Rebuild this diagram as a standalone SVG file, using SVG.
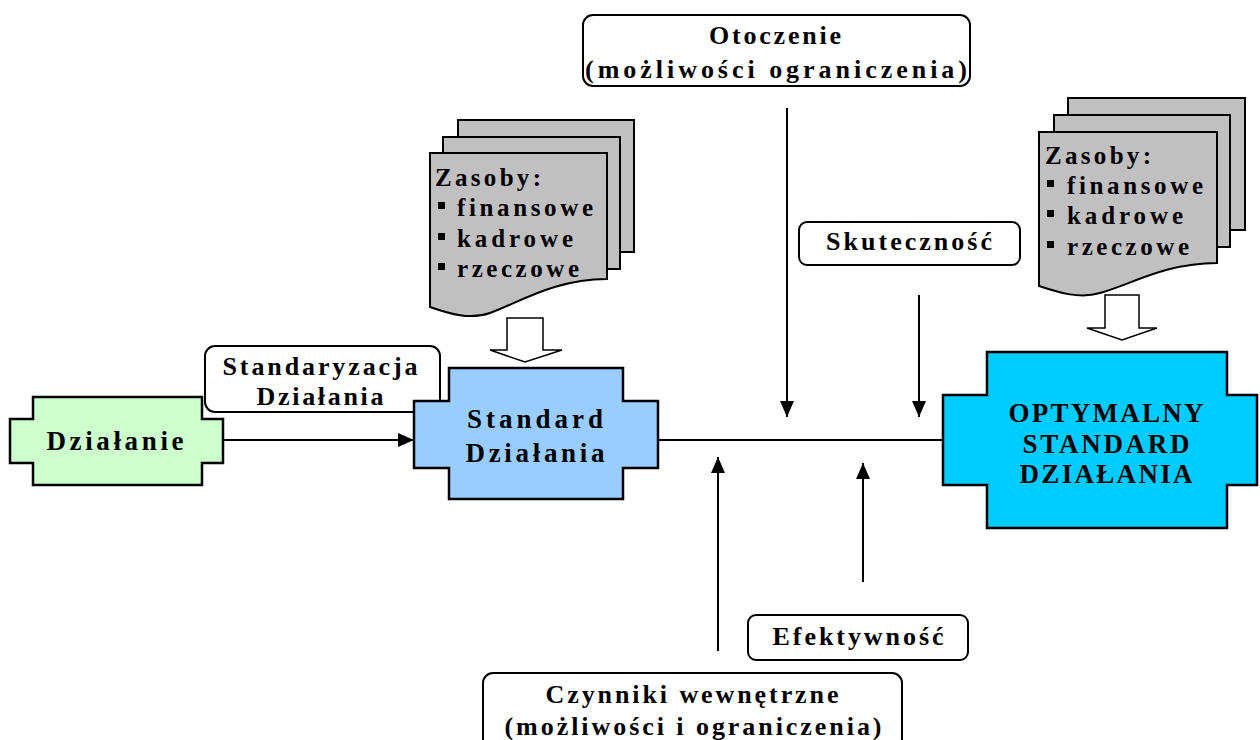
<svg xmlns="http://www.w3.org/2000/svg" width="1260" height="740" viewBox="0 0 1260 740">
  <style>
    text { font-family: "Liberation Serif", "Times New Roman", serif; font-weight: bold; fill: #000; }
    .lbl { font-size: 26px; text-anchor: middle; }
    .big { font-size: 27px; text-anchor: middle; }
    .res { font-size: 25px; }
    .box { fill: #fff; stroke: #000; stroke-width: 2; }
    .cross { stroke: #000; stroke-width: 2.5; }
    .sheet { fill: #c0c0c0; stroke: #000; stroke-width: 2; }
    .blk { fill: #fff; stroke: #000; stroke-width: 1.5; }
    .conn { fill: none; stroke: #000; stroke-width: 2; }
  </style>
  <defs>
    <marker id="ah" viewBox="0 0 16 14" refX="16" refY="7" markerWidth="16" markerHeight="14" markerUnits="userSpaceOnUse" orient="auto">
      <path d="M0,0 L16,7 L0,14 Z" fill="#000"/>
    </marker>
  </defs>

  <rect width="1260" height="740" fill="#fff"/>

  <!-- label boxes -->
  <g id="otoczenie">
    <rect class="box" x="583" y="15" width="387" height="71" rx="10"/>
    <text class="lbl" x="775" y="44" textLength="132" lengthAdjust="spacing">Otoczenie</text>
    <text class="lbl" x="776" y="78" textLength="382" lengthAdjust="spacing">(możliwości ograniczenia)</text>
  </g>
  <g id="skutecznosc">
    <rect class="box" x="799" y="222" width="221" height="43" rx="8"/>
    <text class="lbl" x="909" y="250" textLength="166" lengthAdjust="spacing">Skuteczność</text>
  </g>
  <g id="efektywnosc">
    <rect class="box" x="748" y="615" width="220" height="45" rx="8"/>
    <text class="lbl" x="858" y="645" textLength="171" lengthAdjust="spacing">Efektywność</text>
  </g>
  <g id="czynniki">
    <rect class="box" x="483" y="673" width="419" height="90" rx="10"/>
    <text class="lbl" x="692" y="703" textLength="293" lengthAdjust="spacing">Czynniki wewnętrzne</text>
    <text class="lbl" x="693" y="735" textLength="377" lengthAdjust="spacing">(możliwości i ograniczenia)</text>
  </g>
  <g id="standaryzacja">
    <rect class="box" x="205" y="346" width="235" height="66" rx="10"/>
    <text class="lbl" x="320" y="375" textLength="195" lengthAdjust="spacing">Standaryzacja</text>
    <text class="lbl" x="320" y="405" textLength="127" lengthAdjust="spacing">Działania</text>
  </g>

  <!-- connectors -->
  <g id="connectors">
    <line class="conn" x1="223" y1="440" x2="414" y2="440" marker-end="url(#ah)"/>
    <line class="conn" x1="658" y1="440" x2="943" y2="440"/>
    <line class="conn" x1="787" y1="108" x2="787" y2="417" marker-end="url(#ah)"/>
    <line class="conn" x1="919" y1="295" x2="919" y2="417" marker-end="url(#ah)"/>
    <line class="conn" x1="718" y1="651" x2="718" y2="457" marker-end="url(#ah)"/>
    <line class="conn" x1="863" y1="582" x2="863" y2="463" marker-end="url(#ah)"/>
  </g>

  <!-- resource stacks -->
  <g id="zasoby-1">
    <rect class="sheet" x="458" y="120" width="176" height="132"/>
    <rect class="sheet" x="443" y="137" width="177" height="132"/>
    <path class="sheet" d="M430,153 H607 V279 C555,279 520,302 490,313 C470,320 450,314 430,307 Z"/>
    <text class="res" x="435" y="186" textLength="106" lengthAdjust="spacing">Zasoby:</text>
    <rect x="438" y="202" width="7" height="7" fill="#000"/>
    <text class="res" x="457" y="216" textLength="136" lengthAdjust="spacing">finansowe</text>
    <rect x="438" y="233" width="7" height="7" fill="#000"/>
    <text class="res" x="457" y="247" textLength="116" lengthAdjust="spacing">kadrowe</text>
    <rect x="438" y="263" width="7" height="7" fill="#000"/>
    <text class="res" x="457" y="277" textLength="122" lengthAdjust="spacing">rzeczowe</text>
    <polygon class="blk" points="507,318 543,318 543,350 562,350 525,362 490,350 507,350"/>
  </g>
  <g id="zasoby-2">
    <rect class="sheet" x="1068" y="98" width="177" height="132"/>
    <rect class="sheet" x="1054" y="115" width="176" height="132"/>
    <path class="sheet" d="M1039,132 H1217 V263 C1165,263 1130,285 1100,293 C1080,299 1060,293 1039,286 Z"/>
    <text class="res" x="1045" y="164" textLength="106" lengthAdjust="spacing">Zasoby:</text>
    <rect x="1047" y="180" width="7" height="7" fill="#000"/>
    <text class="res" x="1067" y="194" textLength="136" lengthAdjust="spacing">finansowe</text>
    <rect x="1047" y="210" width="7" height="7" fill="#000"/>
    <text class="res" x="1067" y="224" textLength="116" lengthAdjust="spacing">kadrowe</text>
    <rect x="1047" y="241" width="7" height="7" fill="#000"/>
    <text class="res" x="1067" y="255" textLength="122" lengthAdjust="spacing">rzeczowe</text>
    <polygon class="blk" points="1105,295 1139,295 1139,328 1157,328 1122,340 1087,328 1105,328"/>
  </g>

  <!-- process nodes -->
  <g id="dzialanie">
    <path class="cross" fill="#ccffcc" d="M33,397 H202 V419 H223 V463 H202 V485 H33 V463 H10 V419 H33 Z"/>
    <text class="big" x="115" y="450" textLength="137" lengthAdjust="spacing">Działanie</text>
  </g>
  <g id="standard">
    <path class="cross" fill="#99ccff" d="M449,368 H623 V401 H658 V468 H623 V499 H449 V468 H414 V401 H449 Z"/>
    <text class="big" x="535" y="428" textLength="136" lengthAdjust="spacing">Standard</text>
    <text class="big" x="535" y="462" textLength="139" lengthAdjust="spacing">Działania</text>
  </g>
  <g id="optymalny">
    <path class="cross" fill="#00ccff" d="M987,352 H1227 V395 H1257 V485 H1227 V528 H987 V485 H943 V395 H987 Z"/>
    <text class="big" x="1106" y="422" textLength="195" lengthAdjust="spacing">OPTYMALNY</text>
    <text class="big" x="1106" y="453" textLength="167" lengthAdjust="spacing">STANDARD</text>
    <text class="big" x="1106" y="483" textLength="173" lengthAdjust="spacing">DZIAŁANIA</text>
  </g>
</svg>
